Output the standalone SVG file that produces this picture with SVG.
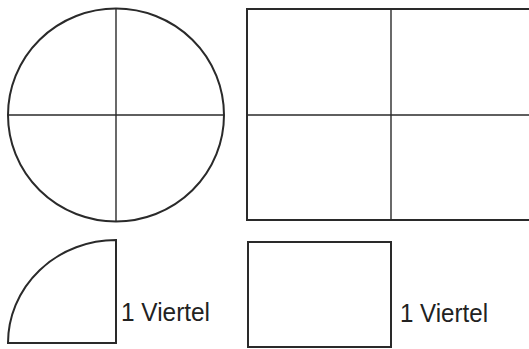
<svg xmlns="http://www.w3.org/2000/svg" width="529" height="349" viewBox="0 0 529 349">
<style>
.o{fill:none;stroke:#2a2a2a;stroke-width:2}
.i{fill:none;stroke:#2a2a2a;stroke-width:1.4}
.t{font-family:"Liberation Sans",Arial,sans-serif;font-size:25px;fill:#222}
</style>
<rect width="529" height="349" fill="#fff"/>
<g id="circle">
<ellipse class="o" cx="116" cy="115" rx="108" ry="106.5"/>
<line class="i" x1="116" y1="8.5" x2="116" y2="221.5"/>
<line class="i" x1="8" y1="115" x2="224" y2="115"/>
</g>
<g id="rectangle">
<path class="o" d="M529 9 H247 V220 H529"/>
<line class="i" x1="391" y1="9" x2="391" y2="220"/>
<line class="i" x1="247" y1="115" x2="529" y2="115"/>
</g>
<g id="quarter-circle">
<path class="o" d="M116 240 V343 H8 A108 103 0 0 1 116 240 Z"/>
<text class="t" x="121" y="321" textLength="89" lengthAdjust="spacingAndGlyphs">1 Viertel</text>
</g>
<g id="quarter-rect">
<rect class="o" x="248" y="242" width="143" height="105"/>
<text class="t" x="400" y="322" textLength="88" lengthAdjust="spacingAndGlyphs">1 Viertel</text>
</g>
</svg>
